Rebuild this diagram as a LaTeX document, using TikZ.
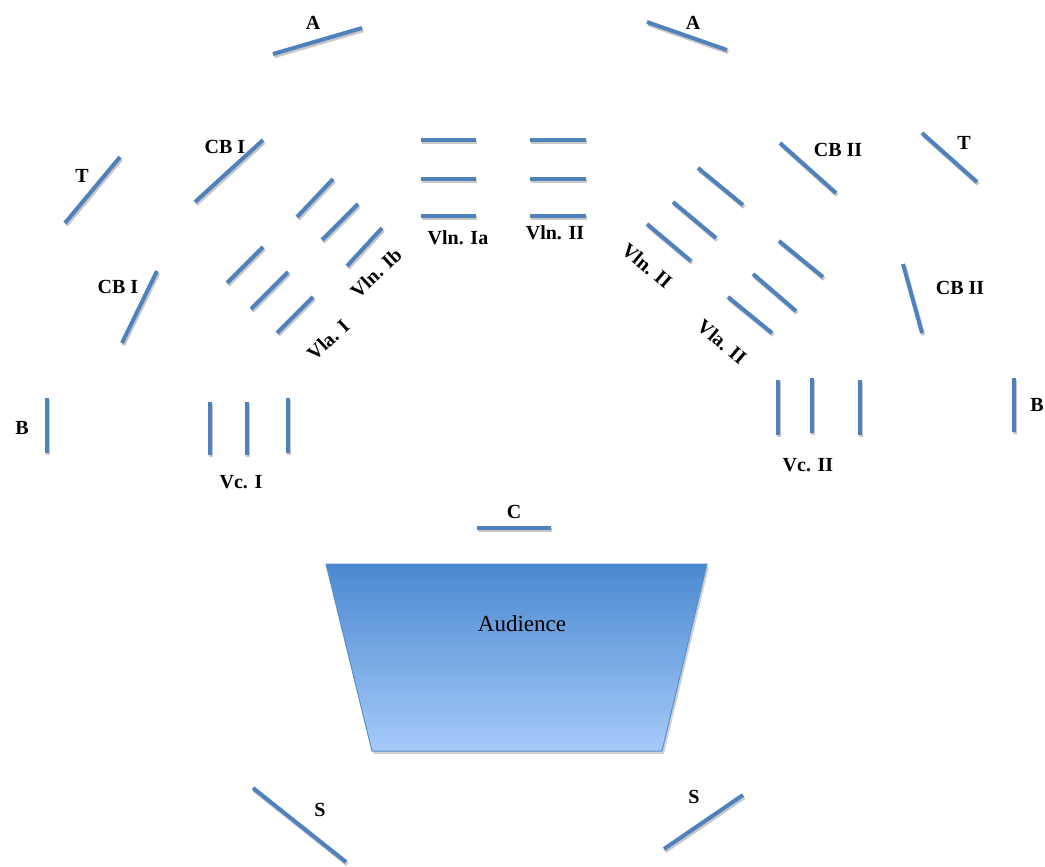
\documentclass[tikz,border=0pt]{standalone}
\usepackage{fontspec}
\setmainfont{Liberation Serif}
\usetikzlibrary{shadings}
\definecolor{seat}{RGB}{79,129,189}
\definecolor{hallTop}{RGB}{74,137,208}
\definecolor{hallBot}{RGB}{166,202,249}
\definecolor{hallEdge}{RGB}{88,142,206}
\tikzset{
  seatline/.style={draw=seat, line width=4pt,
    preaction={draw=black, opacity=0.22, line width=4pt,
      transform canvas={shift={(1.2,2.2)}}}},
  lbl/.style={font=\fontsize{20}{22}\selectfont\bfseries, inner sep=0pt, text=black},
}
\begin{document}
\begin{tikzpicture}[x=1pt,y=-1pt]
\useasboundingbox (0,0) rectangle (1045,867);

% --- outer ring: A, T, B, S ---
\draw[seatline] (273,54) -- (362,28);
\node[lbl] (aL) at (313,23) {A};
\draw[seatline] (647,22) -- (727,50);
\node[lbl] (aR) at (693,23) {A};

\draw[seatline] (65,223) -- (120,157);
\node[lbl] (tL) at (82,176) {T};
\draw[seatline] (922,133) -- (977,182);
\node[lbl] (tR) at (964,143) {T};

\draw[seatline] (47,398) -- (47,453);
\node[lbl] (bL) at (22,428) {B};
\draw[seatline] (1014,378) -- (1014,432);
\node[lbl] (bR) at (1037,405) {B};

\draw[seatline] (253,788) -- (346,862);
\node[lbl] (sL) at (320,810) {S};
\draw[seatline] (664,849) -- (743,795);
\node[lbl] (sR) at (694,797) {S};

% --- double basses ---
\draw[seatline] (195,202) -- (263,140);
\node[lbl] (cb1a) at (225,147) {CB I};
\draw[seatline] (122,343) -- (157,271);
\node[lbl] (cb1b) at (118,287) {CB I};
\draw[seatline] (780,143) -- (836,193);
\node[lbl] (cb2a) at (838,150) {CB II};
\draw[seatline] (903,264) -- (922,333);
\node[lbl] (cb2b) at (960,288) {CB II};

% --- violins, front centre ---
\foreach \y in {140,179,216} {
  \draw[seatline] (421,\y) -- (476,\y);
  \draw[seatline] (530,\y) -- (586,\y);
}
\node[lbl] (vln1a) at (458,238) {Vln. Ia};
\node[lbl] (vln2c) at (555,233) {Vln. II};

% --- left wing: Vln. Ib and Vla. I ---
\draw[seatline] (297,217) -- (333,179);
\draw[seatline] (322,240) -- (358,204);
\draw[seatline] (347,266) -- (382,228);
\node[lbl, rotate=43] (vln1b) at (376,273) {Vln. Ib};

\draw[seatline] (227,283) -- (263,247);
\draw[seatline] (251,309) -- (288,272);
\draw[seatline] (277,333) -- (313,297);
\node[lbl, rotate=43] (vla1) at (328,340) {Vla. I};

% --- right wing: Vln. II and Vla. II ---
\draw[seatline] (698,168) -- (743,205);
\draw[seatline] (673,202) -- (716,238);
\draw[seatline] (647,224) -- (691,261);
\node[lbl, rotate=-40] (vln2r) at (647,266) {Vln. II};

\draw[seatline] (779,241) -- (823,277);
\draw[seatline] (753,274) -- (796,311);
\draw[seatline] (728,297) -- (772,333);
\node[lbl, rotate=-40] (vla2) at (722,342) {Vla. II};

% --- cellos ---
\draw[seatline] (210,402) -- (210,455);
\draw[seatline] (247,402) -- (247,455);
\draw[seatline] (288,398) -- (288,453);
\node[lbl] (vc1) at (241,482) {Vc. I};
\draw[seatline] (778,380) -- (778,435);
\draw[seatline] (812,378) -- (812,433);
\draw[seatline] (860,380) -- (860,435);
\node[lbl] (vc2) at (808,465) {Vc. II};

% --- conductor ---
\draw[seatline] (477,528) -- (551,528);
\node[lbl] (cond) at (514,512) {C};

% --- audience area ---
\fill[black, opacity=0.18] (328,567) -- (709,567) -- (664,754) -- (374,754) -- cycle;
\shade[top color=hallTop, bottom color=hallBot, draw=hallEdge, line width=1pt]
  (326,564) -- (707,564) -- (662,751) -- (372,751) -- cycle;
\node[font=\fontsize{23}{25}\selectfont, inner sep=0pt] (aud) at (522,624) {Audience};
\end{tikzpicture}
\end{document}
